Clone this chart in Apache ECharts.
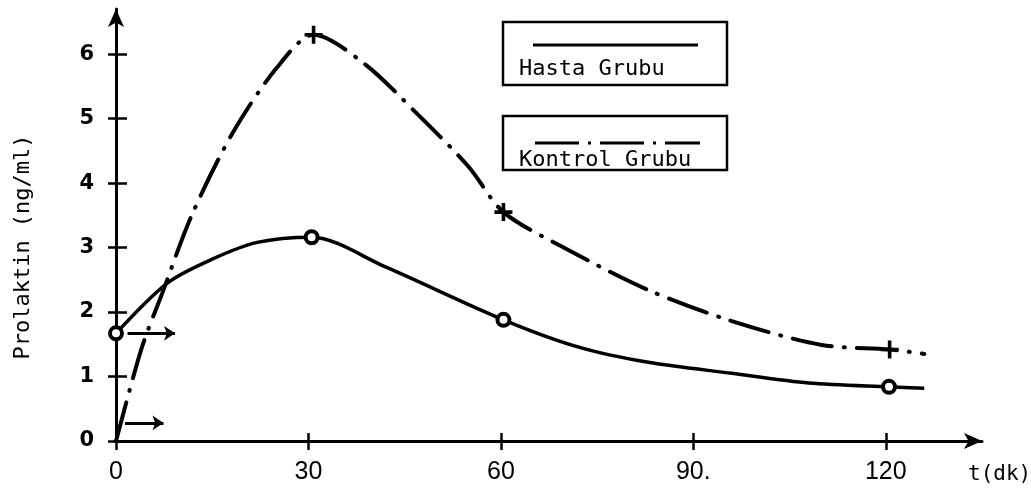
<!DOCTYPE html>
<html><head><meta charset="utf-8">
<script src="https://cdn.jsdelivr.net/npm/echarts@6/dist/echarts.min.js"></script>
<style>html,body{margin:0;padding:0;background:#fff}#c{width:1031px;height:497px}</style>
</head><body><div id="c"></div>
<script>
// ---- data ----
const xTicks = [0, 30, 60, 90, 120];
const xTickLabels = ['0', '30', '60', '90.', '120'];
const yTicks = [0, 1, 2, 3, 4, 5, 6];
const yTickLabels = ['0', '1', '2', '3', '4', '5', '6'];

const hastaT = [0, 8, 15, 22, 30.5, 42, 60.4, 72, 83, 96, 108, 120.5, 126];
const hastaV = [1.67, 2.45, 2.82, 3.08, 3.16, 2.70, 1.88, 1.46, 1.22, 1.05, 0.90, 0.84, 0.82];
const hastaMarked = [0, 30.5, 60.4, 120.5];

const kontrolT = [0, 4, 7.2, 11.8, 18.2, 25, 30.8, 38.6, 47, 55, 60.4, 70, 83, 96, 110, 120.6, 126];
const kontrolV = [0, 1.44, 2.29, 3.5, 4.78, 5.78, 6.3, 5.86, 5.07, 4.25, 3.55, 2.99, 2.34, 1.86, 1.49, 1.42, 1.35];
const kontrolMarked = [30.8, 60.4, 120.6];

const arrowHasta = [[1.8, 1.67], [9.2, 1.67]];
const arrowKontrol = [[1.4, 0.28], [7.4, 0.28]];

// ---- build ----
const PLUS = 'path://M4,0h2v4h4v2h-4v4h-2v-4h-4v-2h4z';
function build(ts, vs, marked, sym) {
  return ts.map((t, i) => marked.indexOf(t) >= 0
    ? { value: [t, vs[i]], symbol: sym }
    : { value: [t, vs[i]], symbol: 'none' });
}
const mono = '"DejaVu Sans Mono", "Liberation Mono", monospace';
const narrow = '"Liberation Sans Narrow", "Liberation Sans", sans-serif';

const chart = echarts.init(document.getElementById('c'));
chart.setOption({
  animation: false,
  backgroundColor: '#fff',
  grid: { left: 116, right: 49, top: 9, bottom: 56, containLabel: false, outerBoundsMode: 'none' },
  xAxis: [{
    type: 'value', min: 0, max: 135,
    axisLine: { lineStyle: { color: '#000', width: 3 }, symbol: ['none', 'arrow'], symbolSize: [12, 18] },
    axisTick: { customValues: xTicks, length: 9, lineStyle: { color: '#000', width: 2.5 } },
    axisLabel: { customValues: xTicks, margin: 19, color: '#000',
      fontFamily: narrow, fontSize: 25,
      formatter: v => xTickLabels[xTicks.indexOf(v)] },
    splitLine: { show: false },
    name: 't(dk)', nameLocation: 'end', nameGap: -14,
    nameTextStyle: { color: '#000', fontFamily: mono, fontSize: 21,
      verticalAlign: 'top', align: 'left', padding: [23, 0, 0, 0] }
  }, {
    type: 'value', min: 0, max: 135, position: 'bottom',
    axisLine: { show: false },
    axisTick: { customValues: xTicks, inside: true, length: 8, lineStyle: { color: '#000', width: 2.5 } },
    axisLabel: { show: false }, splitLine: { show: false }
  }],
  yAxis: [{
    type: 'value', min: 0, max: 6.7,
    axisLine: { lineStyle: { color: '#000', width: 3 }, symbol: ['none', 'arrow'], symbolSize: [12, 18] },
    axisTick: { customValues: yTicks, length: 8, lineStyle: { color: '#000', width: 2.5 } },
    axisLabel: { customValues: yTicks, margin: 22, color: '#000',
      fontFamily: '"DejaVu Sans", sans-serif', fontSize: 21, fontWeight: 'bold',
      formatter: v => yTickLabels[yTicks.indexOf(v)] },
    splitLine: { show: false },
    name: 'Prolaktin (ng/ml)', nameLocation: 'middle', nameGap: 82,
    nameTextStyle: { color: '#000', fontFamily: mono, fontSize: 22, padding: [0, 44, 0, 0] }
  }, {
    type: 'value', min: 0, max: 6.7, position: 'left',
    axisLine: { show: false },
    axisTick: { customValues: yTicks, inside: true, length: 11, lineStyle: { color: '#000', width: 2.5 } },
    axisLabel: { show: false }, splitLine: { show: false }
  }],
  series: [{
    name: 'Hasta Grubu', type: 'line', smooth: 0.3,
    data: build(hastaT, hastaV, hastaMarked, 'circle'),
    symbolSize: 12,
    itemStyle: { color: '#fff', borderColor: '#000', borderWidth: 4 },
    lineStyle: { color: '#000', width: 3.5 },
    markLine: {
      silent: true, symbol: ['none', 'arrow'], symbolSize: 11,
      lineStyle: { color: '#000', width: 3, type: 'solid' }, label: { show: false },
      data: [[{ coord: arrowHasta[0] }, { coord: arrowHasta[1] }],
             [{ coord: arrowKontrol[0] }, { coord: arrowKontrol[1] }]]
    },
    z: 3
  }, {
    name: 'Kontrol Grubu', type: 'line', smooth: 0.3,
    data: build(kontrolT, kontrolV, kontrolMarked, PLUS),
    symbolSize: 18,
    itemStyle: { color: '#000', borderWidth: 0 },
    lineStyle: { color: '#000', width: 4, type: [40, 12, 1, 12], cap: 'round' },
    z: 3
  }],
  graphic: [
    { type: 'rect', shape: { x: 503, y: 22, width: 224, height: 63 }, style: { fill: '#fff', stroke: '#000', lineWidth: 2.5 }, z: 10 },
    { type: 'line', shape: { x1: 533, y1: 45, x2: 698, y2: 45 }, style: { stroke: '#000', lineWidth: 3 }, z: 11 },
    { type: 'text', x: 519, y: 69, style: { text: 'Hasta Grubu', font: '22px ' + mono, fill: '#000', verticalAlign: 'middle' }, z: 11 },
    { type: 'rect', shape: { x: 503, y: 116, width: 224, height: 54 }, style: { fill: '#fff', stroke: '#000', lineWidth: 2.5 }, z: 10 },
    { type: 'line', shape: { x1: 535, y1: 143, x2: 700, y2: 143 }, style: { stroke: '#000', lineWidth: 3, lineDash: [44, 9, 3, 9] }, z: 11 },
    { type: 'text', x: 519, y: 160, style: { text: 'Kontrol Grubu', font: '22px ' + mono, fill: '#000', verticalAlign: 'middle' }, z: 11 }
  ]
});
</script></body></html>
